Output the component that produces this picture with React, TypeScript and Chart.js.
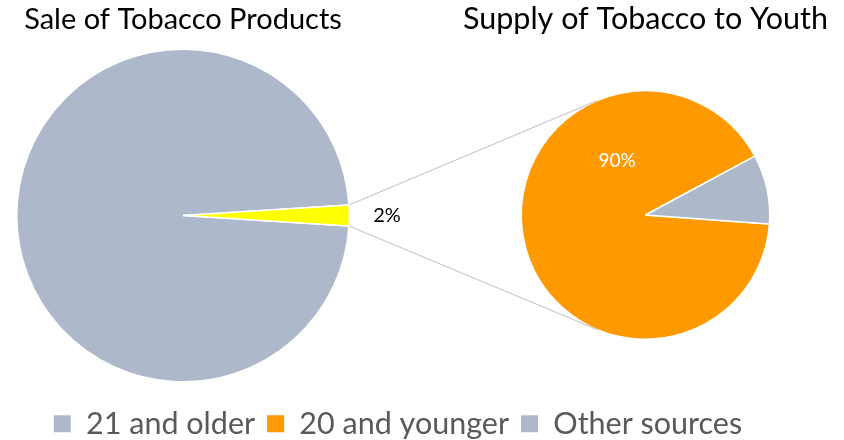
import { useEffect, useRef } from "react";
import { Chart, registerables } from "chart.js";

Chart.register(...registerables);

// ---- data ----
const saleCategories = ["21 and older", "20 and younger"];
const saleValues = [98, 2];
const saleColors = ["#ADB9CA", "#FFFF00"];
const saleLabelTexts = ["", "2%"];

const supplyCategories = ["20 and younger", "Other sources"];
const supplyValues = [91, 9];
const supplyColors = ["#FF9900", "#ADB9CA"];
const supplyLabelTexts = ["90%", ""];

const legendLabels = ["21 and older", "20 and younger", "Other sources"];
const legendColors = ["#ADB9CA", "#FF9900", "#ADB9CA"];

const chartTitles = ["Sale of Tobacco Products", "Supply of Tobacco to Youth"];

const FONT = "Lato, 'Noto Sans', sans-serif";
const W = 844;
const H = 440;
const LEGEND_CANVAS_H = 449;

type Placement = { radius: number; angle?: number };

function makeSliceLabels(
  id: string,
  texts: string[],
  placements: Placement[],
  color: string,
  size: number
) {
  return {
    id,
    afterDatasetsDraw(chart: any) {
      const meta = chart.getDatasetMeta(0);
      const ctx = chart.ctx;
      ctx.save();
      ctx.font = `${size}px ${FONT}`;
      ctx.fillStyle = color;
      ctx.textAlign = "center";
      ctx.textBaseline = "middle";
      meta.data.forEach((arc: any, i: number) => {
        const text = texts[i];
        if (!text) return;
        const p = arc.getProps(["x", "y", "startAngle", "endAngle", "outerRadius"], true);
        const place = placements[i];
        const a =
          place.angle !== undefined ? (place.angle * Math.PI) / 180 : (p.startAngle + p.endAngle) / 2;
        ctx.fillText(
          text,
          p.x + Math.cos(a) * p.outerRadius * place.radius,
          p.y + Math.sin(a) * p.outerRadius * place.radius
        );
      });
      ctx.restore();
    },
  };
}

function tangentPoints(px: number, py: number, cx: number, cy: number, r: number) {
  const dx = px - cx;
  const dy = py - cy;
  const d = Math.hypot(dx, dy);
  const phi = Math.atan2(dy, dx);
  const th = Math.acos(Math.min(1, r / d));
  return [phi + th, phi - th].map((a) => ({ x: cx + r * Math.cos(a), y: cy + r * Math.sin(a) }));
}

function makeConnector(source: () => any) {
  return {
    id: "pieConnector",
    afterDatasetsDraw(chart: any) {
      const src = source();
      if (!src) return;
      const slice = src.getDatasetMeta(0).data[1];
      const target = chart.getDatasetMeta(0).data[0];
      if (!slice || !target) return;
      const s = slice.getProps(["x", "y", "startAngle", "endAngle", "outerRadius"], true);
      const t = target.getProps(["x", "y", "outerRadius"], true);
      const p1 = { x: s.x + Math.cos(s.startAngle) * s.outerRadius, y: s.y + Math.sin(s.startAngle) * s.outerRadius };
      const p2 = { x: s.x + Math.cos(s.endAngle) * s.outerRadius, y: s.y + Math.sin(s.endAngle) * s.outerRadius };
      const upperP = p1.y < p2.y ? p1 : p2;
      const lowerP = p1.y < p2.y ? p2 : p1;
      const up = tangentPoints(upperP.x, upperP.y, t.x, t.y, t.outerRadius).sort((a, b) => a.y - b.y)[0];
      const lo = tangentPoints(lowerP.x, lowerP.y, t.x, t.y, t.outerRadius).sort((a, b) => b.y - a.y)[0];
      const ctx = chart.ctx;
      ctx.save();
      ctx.strokeStyle = "#BFBFBF";
      ctx.lineWidth = 1;
      ctx.beginPath();
      ctx.moveTo(upperP.x, upperP.y);
      ctx.lineTo(up.x, up.y);
      ctx.moveTo(lowerP.x, lowerP.y);
      ctx.lineTo(lo.x, lo.y);
      ctx.stroke();
      ctx.restore();
    },
  };
}

export default function App() {
  const refA = useRef<HTMLCanvasElement>(null);
  const refB = useRef<HTMLCanvasElement>(null);
  const refC = useRef<HTMLCanvasElement>(null);

  useEffect(() => {
    const chartA = new Chart(refA.current!, {
      type: "pie",
      data: {
        labels: saleCategories,
        datasets: [
          {
            data: saleValues,
            backgroundColor: saleColors,
            borderColor: "#FFFFFF",
            borderWidth: 1.5,
          },
        ],
      },
      options: {
        responsive: false,
        animation: false,
        events: [],
        rotation: 93.6,
        layout: { padding: { left: 16, right: 494, top: 0, bottom: 57.5 } },
        plugins: {
          legend: { display: false },
          tooltip: { enabled: false },
          title: {
            display: true,
            text: chartTitles[0],
            color: "#000000",
            font: { family: FONT, size: 29, weight: "normal" },
            padding: { top: 2, bottom: 11.7 },
          },
        },
      },
      plugins: [
        makeSliceLabels("saleLabels", saleLabelTexts, [{ radius: 0 }, { radius: 1.227 }], "#000000", 20),
      ],
    });

    const chartB = new Chart(refB.current!, {
      type: "pie",
      data: {
        labels: supplyCategories,
        datasets: [
          {
            data: supplyValues,
            backgroundColor: supplyColors,
            borderColor: "#FFFFFF",
            borderWidth: 1.5,
          },
        ],
      },
      options: {
        responsive: false,
        animation: false,
        events: [],
        rotation: 94.1,
        layout: { padding: { left: 450, right: 3, top: 0, bottom: 100 } },
        plugins: {
          legend: { display: false },
          tooltip: { enabled: false },
          title: {
            display: true,
            text: chartTitles[1],
            color: "#000000",
            font: { family: FONT, size: 30.5, weight: "normal" },
            padding: { top: 1, bottom: 52.4 },
          },
        },
      },
      plugins: [
        makeSliceLabels("supplyLabels", supplyLabelTexts, [{ radius: 0.495, angle: -117.4 }, { radius: 0 }], "#FFFFFF", 19),
        makeConnector(() => chartA),
      ],
    });

    const chartC = new Chart(refC.current!, {
      type: "pie",
      data: { labels: [], datasets: [] },
      options: {
        responsive: false,
        animation: false,
        events: [],
        layout: { padding: { left: 0, right: 48, top: 0, bottom: 0 } },
        plugins: {
          tooltip: { enabled: false },
          legend: {
            display: true,
            position: "bottom",
            labels: {
              boxWidth: 17,
              boxHeight: 17,
              padding: 12,
              color: "#595959",
              font: { family: FONT, size: 30.5 },
              generateLabels: () =>
                legendLabels.map((text, i) => ({
                  text,
                  fillStyle: legendColors[i],
                  strokeStyle: legendColors[i],
                  lineWidth: 0,
                  hidden: false,
                  fontColor: "#595959",
                  index: i,
                })),
            },
          },
        },
      },
    });

    return () => {
      chartC.destroy();
      chartB.destroy();
      chartA.destroy();
    };
  }, []);

  const canvasStyle: React.CSSProperties = { position: "absolute", left: 0, top: 0 };
  return (
    <div
      style={{
        position: "absolute",
        left: 0,
        top: 0,
        width: W,
        height: H,
        overflow: "hidden",
        background: "#FFFFFF",
      }}
    >
      <canvas ref={refA} width={W} height={H} style={canvasStyle} />
      <canvas ref={refB} width={W} height={H} style={canvasStyle} />
      <canvas ref={refC} width={W} height={LEGEND_CANVAS_H} style={canvasStyle} />
    </div>
  );
}
